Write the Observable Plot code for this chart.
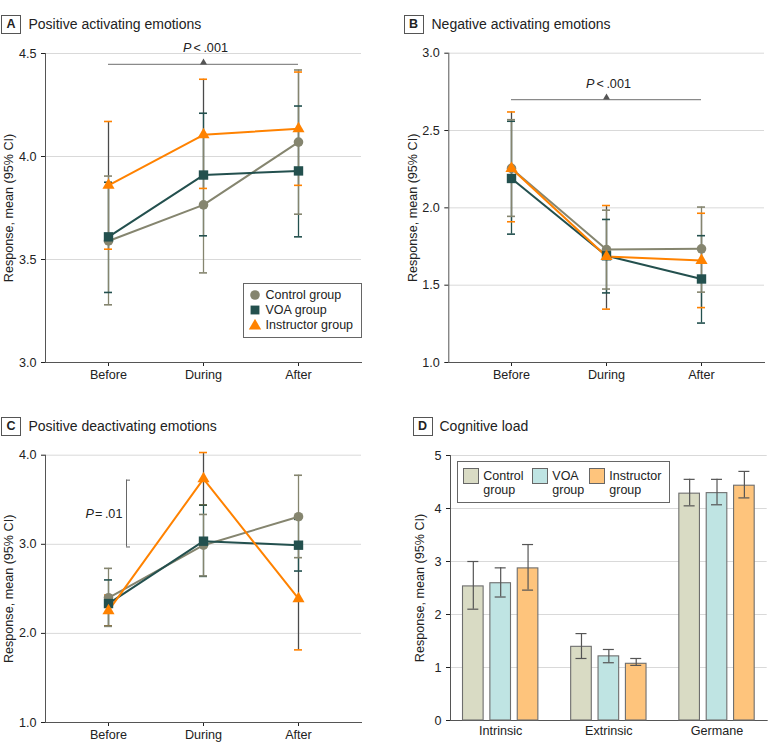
<!DOCTYPE html>
<html>
<head>
<meta charset="utf-8">
<script src="https://cdn.jsdelivr.net/npm/d3@7"></script>
<script src="https://cdn.jsdelivr.net/npm/@observablehq/plot@0.6"></script>
<style>
  body { margin: 0; background: #fff; }
  #wrap { position: relative; width: 780px; height: 755px; overflow: hidden;
          font-family: "Liberation Sans", Arial, sans-serif; color: #222; }
  .panel { position: absolute; }
  .badge { position: absolute; box-sizing: border-box; width: 20px; height: 19px; border: 1px solid #555;
           font-weight: bold; font-size: 12.5px; line-height: 17px; text-align: center; }
  .title { position: absolute; font-size: 14px; line-height: 19px; white-space: nowrap; }
  .legend { position: absolute; box-sizing: border-box; border: 1px solid #666; background: #fff; }
  .lg-item { position: absolute; font-size: 12.5px; line-height: 15px; white-space: nowrap; }
  .sw { position: absolute; box-sizing: border-box; width: 16px; height: 16px; border: 1px solid #666; }
</style>
</head>
<body>
<div id="wrap"></div>
<script>
const FONT = '"Liberation Sans", Arial, sans-serif';
const FS = 12.6;

// ---------- data ----------
const groups = ["Control group", "VOA group", "Instructor group"];
const times = ["Before", "During", "After"];
const loadCats = ["Intrinsic", "Extrinsic", "Germane"];

// Panel A: Positive activating emotions (rows: control, VOA, instructor)
const aMean = [[3.59, 3.765, 4.07], [3.61, 3.91, 3.93], [3.86, 4.105, 4.135]];
const aLow  = [[3.28, 3.435, 3.72], [3.34, 3.615, 3.61], [3.55, 3.845, 3.86]];
const aHigh = [[3.905, 4.095, 4.42], [3.875, 4.21, 4.245], [4.17, 4.375, 4.41]];
const aTicks = [3.0, 3.5, 4.0, 4.5];

// Panel B: Negative activating emotions
const bMean = [[2.255, 1.73, 1.735], [2.19, 1.69, 1.54], [2.255, 1.685, 1.66]];
const bLow  = [[1.945, 1.475, 1.455], [1.83, 1.45, 1.255], [1.91, 1.345, 1.355]];
const bHigh = [[2.57, 1.985, 2.005], [2.56, 1.925, 1.82], [2.62, 2.015, 1.965]];
const bTicks = [1.0, 1.5, 2.0, 2.5, 3.0];

// Panel C: Positive deactivating emotions
const cMean = [[2.40, 2.99, 3.31], [2.335, 3.035, 2.99], [2.255, 3.735, 2.39]];
const cLow  = [[2.08, 2.645, 2.85], [2.08, 2.64, 2.70], [2.085, 3.44, 1.815]];
const cHigh = [[2.73, 3.335, 3.775], [2.60, 3.44, 3.28], [2.43, 4.03, 2.965]];
const cTicks = [1.0, 2.0, 3.0, 4.0];

// Panel D: Cognitive load (columns: intrinsic, extrinsic, germane)
const dMean = [[2.53, 1.39, 4.28], [2.59, 1.21, 4.29], [2.87, 1.07, 4.43]];
const dLow  = [[2.10, 1.17, 4.05], [2.33, 1.09, 4.07], [2.46, 1.04, 4.20]];
const dHigh = [[3.00, 1.64, 4.55], [2.88, 1.34, 4.55], [3.32, 1.17, 4.70]];
const dTicks = [0, 1, 2, 3, 4, 5];

// Significance annotations
const aSig = [{from: "Before", to: "After", mid: "During", y: 4.447, textY: 4.525, label: "<\u2009.001"}];
const bSig = [{from: "Before", to: "After", mid: "During", y: 2.70, textY: 2.80, label: "<\u2009.001"}];
const cSig = [{at: "Before", y1: 2.97, y2: 3.72, textY: 3.34, label: "=\u2009.01"}];

// ---------- styles ----------
const groupColors = ["#85856f", "#23504e", "#ff8200"];
const errColors = ["#85856f", "#23504e", "#4a4a4a"];
const barFills = ["#d9dbc4", "#bfe4e3", "#fec47c"];
const symbols = ["circle", "square", "triangle"];
const radii = [4.8, 5.3, 4.5];
const yLabel = "Response, mean (95% CI)";

function rowsFor(mean, low, high, cats) {
  return groups.flatMap((g, gi) => cats.map((c, ci) => ({
    group: g, gi, cat: c, mean: mean[gi][ci], low: low[gi][ci], high: high[gi][ci]
  })));
}

const baseStyle = {fontFamily: FONT, fontSize: FS + "px", color: "#222", background: "transparent", overflow: "visible"};

function linePanel(o) {
  const rows = rowsFor(o.mean, o.low, o.high, times);
  const marks = [
    Plot.gridY(o.yTicks, {stroke: "#d9d9d9", strokeOpacity: 1}),
    Plot.axisY(o.yTicks, {tickFormat: d3.format(".1f"), tickSize: 4, tickPadding: 5, label: yLabel,
      labelAnchor: "center", labelArrow: "none", labelOffset: o.labelOffset, fontSize: FS}),
    Plot.axisX(times, {tickSize: 4, tickPadding: 4, label: null, fontSize: FS}),
    Plot.frame({anchor: "left", stroke: "#555"}),
    Plot.frame({anchor: "bottom", stroke: "#555"}),
    ...o.annot
  ];
  [2, 1, 0].forEach(gi => {
    const r = rows.filter(d => d.gi === gi);
    marks.push(Plot.ruleX(r, {x: "cat", y1: "low", y2: "high", stroke: errColors[gi], strokeWidth: 1.3}));
  });
  [2, 1, 0].forEach(gi => {
    const r = rows.filter(d => d.gi === gi);
    marks.push(Plot.ruleY(r, {x1: "cat", x2: "cat", y: "low", insetLeft: -4, insetRight: -4, stroke: groupColors[gi], strokeWidth: 1.6}));
    marks.push(Plot.ruleY(r, {x1: "cat", x2: "cat", y: "high", insetLeft: -4, insetRight: -4, stroke: groupColors[gi], strokeWidth: 1.6}));
  });
  [0, 1, 2].forEach(gi => {
    const r = rows.filter(d => d.gi === gi);
    marks.push(Plot.line(r, {x: "cat", y: "mean", stroke: groupColors[gi], strokeWidth: 2}));
  });
  [0, 1, 2].forEach(gi => {
    const r = rows.filter(d => d.gi === gi);
    marks.push(Plot.dot(r, {x: "cat", y: "mean", symbol: symbols[gi], r: radii[gi], fill: groupColors[gi], stroke: "none"}));
  });
  return Plot.plot({
    width: 390, height: o.height,
    marginLeft: o.marginLeft, marginRight: o.marginRight, marginTop: o.marginTop, marginBottom: o.marginBottom,
    x: {type: "point", domain: times, padding: 0.65},
    y: {domain: o.yDomain},
    style: baseStyle,
    marks
  });
}

function sigHoriz(sig) {
  return [
    Plot.ruleY(sig, {x1: "from", x2: "to", y: "y", stroke: "#8a8a8a", strokeWidth: 1.2}),
    Plot.dot(sig, {x: "mid", y: "y", symbol: "triangle", r: 2.6, fill: "#555", dy: -2}),
    Plot.text(sig, {x: "mid", y: "textY", text: () => "P", fontStyle: "italic", textAnchor: "end", dx: -12, fontSize: FS}),
    Plot.text(sig, {x: "mid", y: "textY", text: "label", textAnchor: "start", dx: -10, fontSize: FS})
  ];
}
function sigVert(sig) {
  return [
    Plot.ruleX(sig, {x: "at", y1: "y1", y2: "y2", dx: 18, stroke: "#666", strokeWidth: 1}),
    Plot.ruleY(sig, {x1: "at", x2: "at", y: "y1", dx: 18, insetLeft: 0, insetRight: -4, stroke: "#666", strokeWidth: 1}),
    Plot.ruleY(sig, {x1: "at", x2: "at", y: "y2", dx: 18, insetLeft: 0, insetRight: -4, stroke: "#666", strokeWidth: 1}),
    Plot.text(sig, {x: "at", y: "textY", text: () => "P", fontStyle: "italic", textAnchor: "end", dx: -14.5, fontSize: FS}),
    Plot.text(sig, {x: "at", y: "textY", text: "label", textAnchor: "start", dx: -13.5, fontSize: FS})
  ];
}

function barPanel() {
  const rows = rowsFor(dMean, dLow, dHigh, loadCats);
  const mL = 60, mR = 13.3;
  const pI = 0.294, pO = 0.111;
  const bw = d3.scaleBand().domain(loadCats).range([mL, 390 - mR]).paddingInner(pI).paddingOuter(pO).bandwidth();
  const inner = d3.scaleBand().domain(groups).range([0, bw]).paddingInner(0.21).paddingOuter(0);
  const barW = inner.bandwidth();
  const marks = [
    Plot.gridY(dTicks.slice(1), {stroke: "#d9d9d9", strokeOpacity: 1}),
    Plot.axisY(dTicks, {tickFormat: d3.format("d"), tickSize: 4, tickPadding: 5, label: yLabel, labelAnchor: "center",
      labelArrow: "none", labelOffset: 35, fontSize: FS}),
    Plot.axisX(loadCats, {tickSize: 0, tickPadding: 6, label: null, fontSize: FS}),
    Plot.frame({anchor: "left", stroke: "#555"}),
    Plot.frame({anchor: "bottom", stroke: "#555"})
  ];
  groups.forEach((g, gi) => {
    const r = rows.filter(d => d.gi === gi);
    const x0 = inner(g);
    marks.push(Plot.barY(r, {x: "cat", y: "mean", fill: barFills[gi], stroke: "#6e6e6e", strokeWidth: 1.1,
      insetLeft: x0 + 0.5, insetRight: bw - x0 - barW + 0.5}));
  });
  groups.forEach((g, gi) => {
    const r = rows.filter(d => d.gi === gi);
    const c = inner(g) + barW / 2;
    marks.push(Plot.ruleX(r, {x: "cat", y1: "low", y2: "high", dx: c - bw / 2, stroke: "#555", strokeWidth: 1.2}));
    marks.push(Plot.tickY(r, {x: "cat", y: "low", insetLeft: c - 5.5, insetRight: bw - c - 5.5, stroke: "#555", strokeWidth: 1.2}));
    marks.push(Plot.tickY(r, {x: "cat", y: "high", insetLeft: c - 5.5, insetRight: bw - c - 5.5, stroke: "#555", strokeWidth: 1.2}));
  });
  return Plot.plot({
    width: 390, height: 370, marginLeft: mL, marginRight: mR, marginTop: 75, marginBottom: 30,
    x: {type: "band", domain: loadCats, paddingInner: pI, paddingOuter: pO, round: false},
    y: {domain: [0, 5]},
    style: baseStyle,
    marks
  });
}

const wrap = document.getElementById("wrap");
function place(node, left, top) {
  const d = document.createElement("div");
  d.className = "panel"; d.style.left = left + "px"; d.style.top = top + "px";
  d.appendChild(node); wrap.appendChild(d);
}

place(linePanel({mean: aMean, low: aLow, high: aHigh, yDomain: [3, 4.5], yTicks: aTicks,
  marginLeft: 45, marginRight: 29, marginTop: 53, marginBottom: 28, height: 390, labelOffset: 41,
  annot: sigHoriz(aSig)}), 0, 0);
place(linePanel({mean: bMean, low: bLow, high: bHigh, yDomain: [1, 3], yTicks: bTicks,
  marginLeft: 58.3, marginRight: 16, marginTop: 52.7, marginBottom: 28, height: 390, labelOffset: 41,
  annot: sigHoriz(bSig)}), 390, 0);
place(linePanel({mean: cMean, low: cLow, high: cHigh, yDomain: [1, 4], yTicks: cTicks,
  marginLeft: 45, marginRight: 29, marginTop: 74.7, marginBottom: 30, height: 372, labelOffset: 41,
  annot: sigVert(cSig)}), 0, 380);
place(barPanel(), 390, 380);

// titles
function title(letter, text, bx, by, tx) {
  const b = document.createElement("div");
  b.className = "badge"; b.textContent = letter; b.style.left = bx + "px"; b.style.top = by + "px";
  wrap.appendChild(b);
  const t = document.createElement("div");
  t.className = "title"; t.textContent = text; t.style.left = tx + "px"; t.style.top = by + "px";
  wrap.appendChild(t);
}
title("A", "Positive activating emotions", 1, 15, 28.5);
title("B", "Negative activating emotions", 403.5, 15, 431.5);
title("C", "Positive deactivating emotions", 1, 417, 28.5);
title("D", "Cognitive load", 412.5, 417, 439.5);

// Legend (panel A)
(function () {
  const box = document.createElement("div");
  box.className = "legend";
  Object.assign(box.style, {left: "243px", top: "283px", width: "119px", height: "55px"});
  wrap.appendChild(box);
  const ys = [295, 310.3, 325.7];
  groups.forEach((g, gi) => {
    const s = d3.create("svg").attr("width", 14).attr("height", 14)
      .style("position", "absolute").style("left", (255 - 7) + "px").style("top", (ys[gi] - 7) + "px");
    s.append("path").attr("transform", "translate(7,7)")
      .attr("d", d3.symbol(
        gi === 0 ? d3.symbolCircle : gi === 1 ? d3.symbolSquare : d3.symbolTriangle,
        Math.PI * [4.8, 5.0, 4.6][gi] ** 2)())
      .attr("fill", groupColors[gi]);
    wrap.appendChild(s.node());
    const t = document.createElement("div");
    t.className = "lg-item"; t.textContent = g;
    t.style.left = "265.5px"; t.style.top = (ys[gi] - 7.5) + "px";
    wrap.appendChild(t);
  });
})();

// Legend (panel D)
(function () {
  const box = document.createElement("div");
  box.className = "legend";
  Object.assign(box.style, {left: "456.5px", top: "461px", width: "213px", height: "41.5px"});
  wrap.appendChild(box);
  const swX = [462.7, 531.7, 589];
  const txX = [483.3, 552.3, 609.3];
  const labels = [["Control", "group"], ["VOA", "group"], ["Instructor", "group"]];
  groups.forEach((g, gi) => {
    const sw = document.createElement("div");
    sw.className = "sw"; sw.style.left = swX[gi] + "px"; sw.style.top = "467.7px"; sw.style.background = barFills[gi];
    wrap.appendChild(sw);
    const t = document.createElement("div");
    t.className = "lg-item"; t.innerHTML = labels[gi].join("<br>");
    t.style.left = txX[gi] + "px"; t.style.top = "468.5px"; t.style.lineHeight = "14px";
    wrap.appendChild(t);
  });
})();
</script>
</body>
</html>
